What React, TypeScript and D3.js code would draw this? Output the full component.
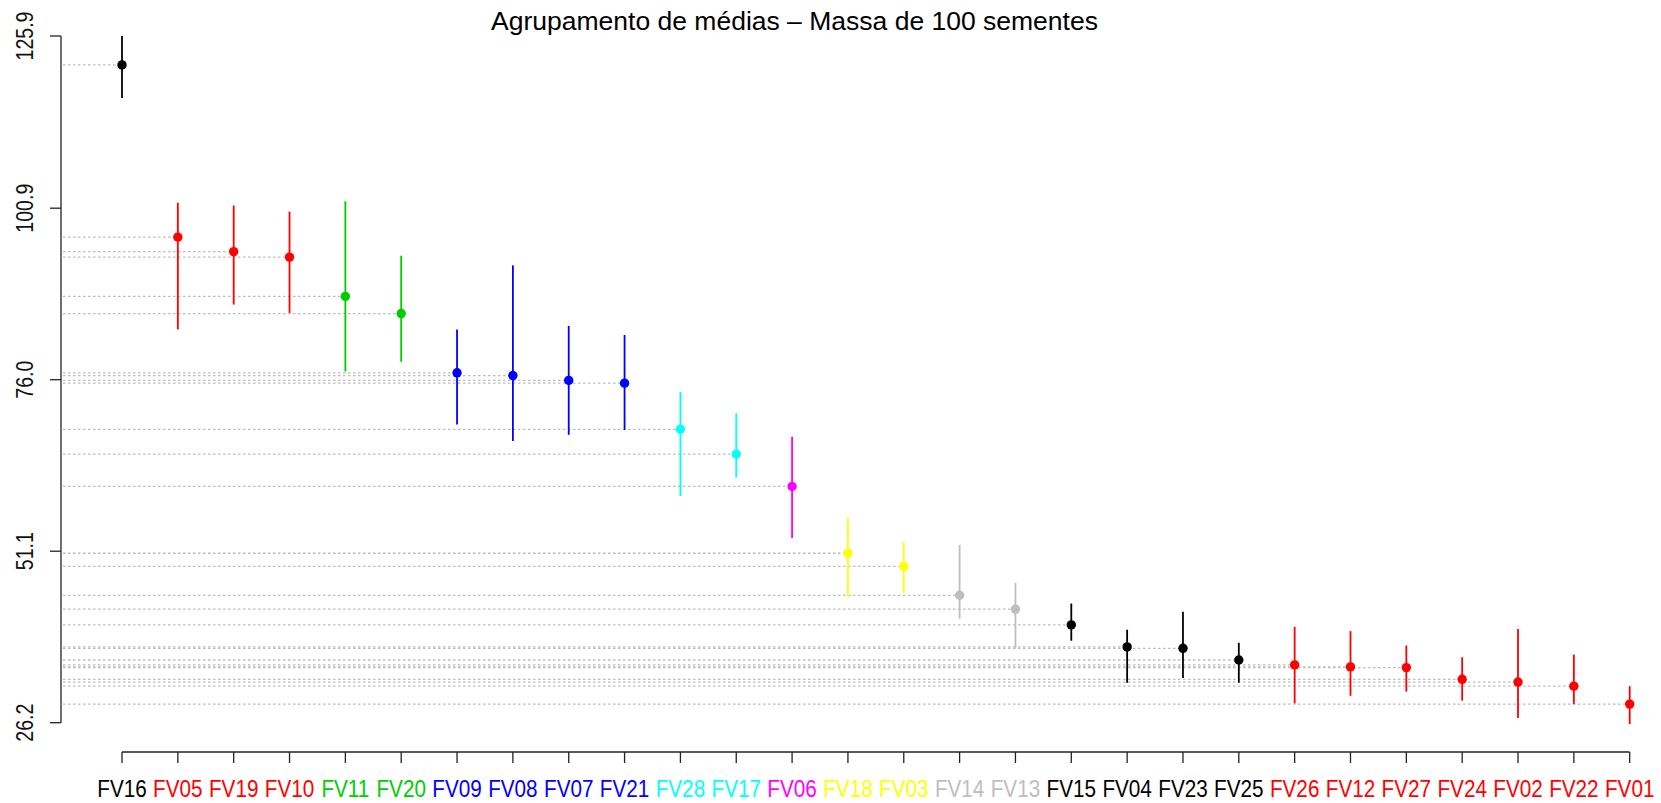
import React from "react";
import * as d3 from "d3";

const categories = ["FV16","FV05","FV19","FV10","FV11","FV20","FV09","FV08","FV07","FV21","FV28","FV17","FV06","FV18","FV03","FV14","FV13","FV15","FV04","FV23","FV25","FV26","FV12","FV27","FV24","FV02","FV22","FV01"];
const means = [121.7, 96.7, 94.6, 93.8, 88.1, 85.6, 77.0, 76.6, 75.9, 75.5, 68.8, 65.2, 60.5, 50.8, 48.9, 44.7, 42.7, 40.4, 37.2, 37.0, 35.3, 34.6, 34.3, 34.2, 32.5, 32.1, 31.5, 28.9];
const upper = [125.9, 101.7, 101.3, 100.4, 101.9, 94.0, 83.3, 92.6, 83.8, 82.5, 74.2, 71.1, 67.7, 56.0, 52.4, 52.0, 46.5, 43.5, 39.7, 42.3, 37.8, 40.1, 39.5, 37.4, 35.7, 39.8, 36.1, 31.5];
const lower = [116.9, 83.3, 86.9, 85.7, 77.2, 78.6, 69.5, 67.1, 68.0, 68.7, 59.1, 61.8, 53.0, 44.4, 45.0, 41.3, 37.0, 38.1, 32.0, 32.7, 32.0, 29.0, 30.1, 30.7, 29.4, 26.9, 28.9, 26.0];
const groups = [1,2,2,2,3,3,4,4,4,4,5,5,6,7,7,8,8,9,9,9,9,10,10,10,10,10,10,10];
const groupColors = ["#000000","#ff0000","#00cd00","#0000ff","#00ffff","#ff00ff","#ffff00","#bebebe","#000000","#ff0000"];
const yTicks = [26.2, 51.1, 76.0, 100.9, 125.9];
const title = "Agrupamento de médias – Massa de 100 sementes";

export default function App() {
  const W = 1661, H = 803;
  const y = d3.scaleLinear().domain([26.2, 125.9]).range([722.7, 36]);
  const x = d3.scalePoint<string>().domain(categories).range([122, 1629.7]);
  const axisX = 61;
  const axisY = 752;
  const fmt = d3.format(".1f");
  const font = "'Liberation Sans', Arial, sans-serif";
  return (
    <svg width={W} height={H} style={{ position: "absolute", left: 0, top: 0, background: "#fff" }} fontFamily={font}>
      <rect width={W} height={H} fill="#fff" />
      <text x={794.5} y={30} fontSize={26.5} textAnchor="middle" fill="#000">{title}</text>
      {/* dotted guide lines */}
      {categories.map((c, i) => (
        <line key={"g" + c} x1={axisX + 2} x2={x(c)} y1={y(means[i])} y2={y(means[i])}
          stroke="#bdbdbd" strokeWidth={1.3} strokeDasharray="2.5,2.5" />
      ))}
      {/* error bars */}
      {categories.map((c, i) => (
        <line key={"e" + c} x1={x(c)} x2={x(c)} y1={y(upper[i])} y2={y(lower[i])}
          stroke={groupColors[groups[i] - 1]} strokeWidth={1.8} />
      ))}
      {/* points */}
      {categories.map((c, i) => (
        <circle key={"p" + c} cx={x(c)} cy={y(means[i])} r={4.7} fill={groupColors[groups[i] - 1]} />
      ))}
      {/* y axis */}
      <line x1={axisX} x2={axisX} y1={y(125.9)} y2={y(26.2)} stroke="#222" strokeWidth={1.3} />
      {yTicks.map((t) => (
        <g key={"yt" + t}>
          <line x1={axisX - 11} x2={axisX} y1={y(t)} y2={y(t)} stroke="#222" strokeWidth={1.3} />
          <text transform={`translate(33.3,${y(t)}) rotate(-90) scale(0.85,1)`} textAnchor="middle" fontSize={23} fill="#111">{fmt(t)}</text>
        </g>
      ))}
      {/* x axis */}
      <line x1={x(categories[0])} x2={x(categories[categories.length - 1])} y1={axisY} y2={axisY} stroke="#222" strokeWidth={1.3} />
      {categories.map((c, i) => (
        <g key={"xt" + c}>
          <line x1={x(c)} x2={x(c)} y1={axisY} y2={axisY + 11} stroke="#222" strokeWidth={1.3} />
          <text transform={`translate(${x(c)},797) scale(0.9,1)`} textAnchor="middle" fontSize={23} fill={groupColors[groups[i] - 1]}>{c}</text>
        </g>
      ))}
    </svg>
  );
}
